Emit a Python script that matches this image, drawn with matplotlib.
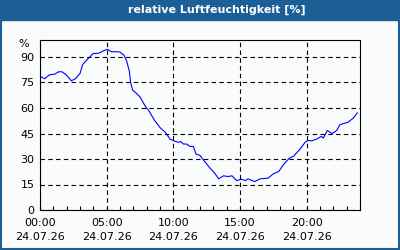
#Plots the relative humidity of one day as a station-style chart

import matplotlib
matplotlib.use('Agg')
import matplotlib.pyplot as plt
from matplotlib.patches import Rectangle

'''Humidity readings read off the chart (hour of day, percent)'''
hours = [0, 0.35, 0.7, 1.1, 1.4, 1.65, 2.0, 2.35, 2.65, 3.0,
         3.2, 3.6, 4.0, 4.2, 4.5, 4.7, 5.05, 5.35, 5.8, 6.0,
         6.3, 6.5, 6.7, 6.8, 6.95, 7.25, 7.5, 7.9, 8.2, 8.55,
         9.0, 9.4, 9.75, 10.1, 10.4, 10.55, 10.75, 11.0, 11.25, 11.5,
         11.7, 12.0, 12.25, 12.75, 13.1, 13.4, 13.75, 14.1, 14.4, 14.75,
         15.1, 15.4, 15.6, 16.1, 16.5, 17.1, 17.5, 17.9, 18.25, 18.7,
         19.0, 19.5, 19.9, 20.1, 20.4, 20.75, 21.1, 21.25, 21.55, 21.9,
         22.25, 22.5, 22.9, 23.1, 23.5, 23.8]
humidity = [78.7, 77.2, 79.5, 79.9, 81.3, 81.3, 79.3, 76.0, 77.2, 80.3,
            85.6, 89.0, 92.1, 92.0, 92.5, 93.5, 94.5, 93.1, 93.1, 92.9,
            91.0, 87.6, 81.7, 74.8, 70.5, 68.5, 66.5, 61.0, 58.0, 53.2,
            48.5, 45.7, 41.7, 40.5, 39.8, 40.3, 38.8, 38.8, 37.4, 37.4,
            32.9, 32.1, 29.5, 24.6, 21.7, 18.3, 20.1, 19.7, 20.1, 17.3,
            18.1, 17.3, 18.3, 16.7, 18.3, 18.7, 21.3, 22.6, 26.6, 30.5,
            31.5, 35.8, 40.0, 40.9, 40.7, 41.7, 43.3, 42.3, 46.8, 44.9,
            46.8, 50.2, 51.2, 51.6, 54.1, 57.1]

xticks = [0, 5, 10, 15, 20]
xlabels = ['00:00\n24.07.26', '05:00\n24.07.26', '10:00\n24.07.26',
           '15:00\n24.07.26', '20:00\n24.07.26']
yticks = [0, 15, 30, 45, 60, 75, 90]

frame_blue = '#1c5f96'
bg = '#f9fcfa'

fig = plt.figure(figsize=(4, 2.5), dpi=100, facecolor=bg)
ax = fig.add_axes([0.1, 0.16, 0.8, 0.68], facecolor=bg)

ax.plot(hours, humidity, color='#0000ff', lw=0.8)

ax.set_xlim(0, 24)
ax.set_ylim(0, 100)
ax.set_xticks(xticks)
ax.set_xticklabels(xlabels, fontsize=8, linespacing=1.45)
ax.set_xticks(range(0, 25), minor=True)
ax.set_yticks(yticks)
ax.set_yticklabels([str(v) for v in yticks], fontsize=8)
ax.tick_params(axis='x', which='both', direction='in', length=3, width=0.8, pad=6)
ax.tick_params(axis='y', length=0, pad=4)
ax.grid(True, which='major', color='black', linestyle=(0, (4, 3)), lw=0.8)
for s in ax.spines.values():
    s.set_linewidth(0.8)

ax.text(-0.035, 97.5, '%', transform=ax.get_yaxis_transform(), ha='right', va='center', fontsize=8)

'''Title band and blue frame'''
fig.patches.append(Rectangle((0, 0.92), 1, 0.08, transform=fig.transFigure, color=frame_blue, zorder=-1))
fig.patches.append(Rectangle((0.002, 0.003), 0.995, 0.995, transform=fig.transFigure,
                             fill=False, edgecolor=frame_blue, lw=1.5))
fig.text(0.5425, 0.96, 'relative Luftfeuchtigkeit [%]', color='white', fontsize=8,
         fontweight='bold', ha='center', va='center')

plt.savefig('out.png', dpi=100, facecolor=bg)
